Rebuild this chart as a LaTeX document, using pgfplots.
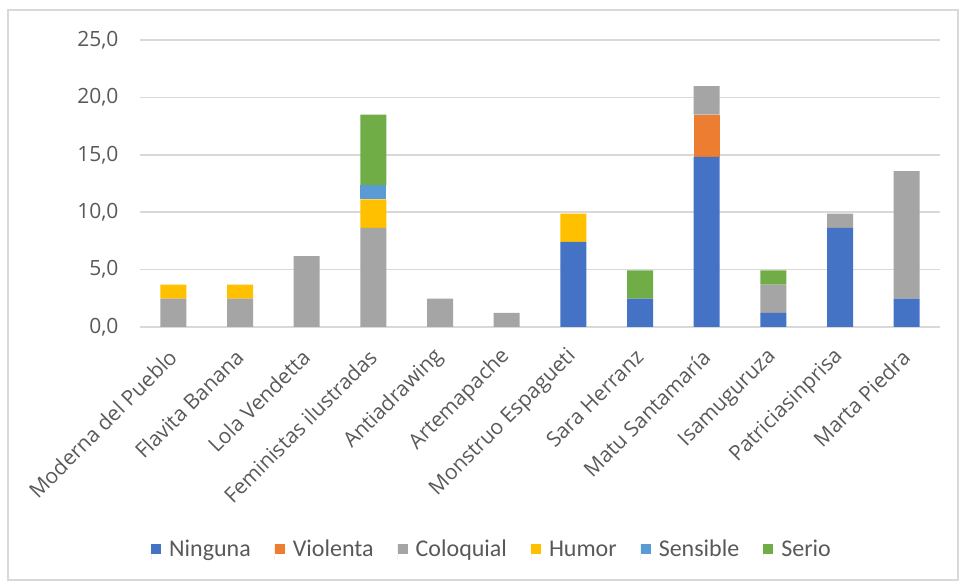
\documentclass[border=0pt]{standalone}
\usepackage{fontspec}
\setmainfont{Open Sans}
\newfontfamily\legfont{Carlito}
\usepackage{pgfplots}
\usepackage{pgfplotstable}
\pgfplotsset{compat=1.18}
\definecolor{cNing}{HTML}{4472C4}
\definecolor{cViol}{HTML}{ED7D31}
\definecolor{cColo}{HTML}{A5A5A5}
\definecolor{cHumo}{HTML}{FFC000}
\definecolor{cSens}{HTML}{5B9BD5}
\definecolor{cSeri}{HTML}{70AD47}
\definecolor{gridc}{HTML}{D9D9D9}
\definecolor{tickc}{HTML}{595959}

\pgfplotstableread{
x Ninguna Violenta Coloquial Humor Sensible Serio
0 0     0    2.47  1.23 0    0
1 0     0    2.47  1.23 0    0
2 0     0    6.17  0    0    0
3 0     0    8.64  2.47 1.23 6.17
4 0     0    2.47  0    0    0
5 0     0    1.23  0    0    0
6 7.41  0    0     2.47 0    0
7 2.47  0    0     0    0    2.47
8 14.81 3.70 2.47  0    0    0
9 1.23  0    2.47  0    0    1.23
10 8.64 0    1.23  0    0    0
11 2.47 0    11.11 0    0    0
}\datatable

\begin{document}
\begin{tikzpicture}[x=1pt,y=1pt]
\path[use as bounding box] (0,0) rectangle (962,583);
\draw[color=gridc, line width=1.5pt] (8,3) rectangle (958,573);
\begin{axis}[
  at={(140pt,256pt)}, anchor=south west,
  scale only axis, width=800pt, height=287pt,
  ybar stacked, bar width=26pt,
  xmin=-0.5, xmax=11.5, ymin=0, ymax=25,
  xtick={0,...,11},
  xticklabels={Moderna del Pueblo, Flavita Banana, Lola Vendetta, Feministas ilustradas, Antiadrawing, Artemapache, Monstruo Espagueti, Sara Herranz, Matu Santamaría, Isamuguruza, Patriciasinprisa, Marta Piedra},
  ytick={0,5,...,25},
  ymajorgrids, grid style={line width=1.5pt, color=gridc},
  axis line style={draw=none},
  major tick length=0pt,
  tick label style={font=\fontsize{21}{25}\selectfont, text=tickc},
  yticklabel style={/pgf/number format/.cd, fixed, fixed zerofill, precision=1, use comma, assume math mode=true, /tikz/.cd, xshift=-18pt},
  xticklabel style={yshift=-24pt, xshift=2pt, rotate=45, anchor=east},
  legend columns=6,
  legend style={at={(0.44,-0.785)}, anchor=center, draw=none, fill=none,
    font=\legfont\fontsize{24}{28}\selectfont, text=tickc,
    nodes={text height=0.62em, text depth=0.2em},
    /tikz/every odd column/.append style={column sep=6pt},
    /tikz/every even column/.append style={column sep=22pt}},
  legend image code/.code={\path (0pt,-5pt) -- (0pt,11pt); \fill[#1] (0pt,1pt) rectangle (10pt,11pt);},
]
\addplot[fill=cNing, draw=none] table[x=x, y=Ninguna] {\datatable};
\addplot[fill=cViol, draw=none] table[x=x, y=Violenta] {\datatable};
\addplot[fill=cColo, draw=none] table[x=x, y=Coloquial] {\datatable};
\addplot[fill=cHumo, draw=none] table[x=x, y=Humor] {\datatable};
\addplot[fill=cSens, draw=none] table[x=x, y=Sensible] {\datatable};
\addplot[fill=cSeri, draw=none] table[x=x, y=Serio] {\datatable};
\legend{Ninguna, Violenta, Coloquial, Humor, Sensible, Serio}
\end{axis}
\end{tikzpicture}
\end{document}
